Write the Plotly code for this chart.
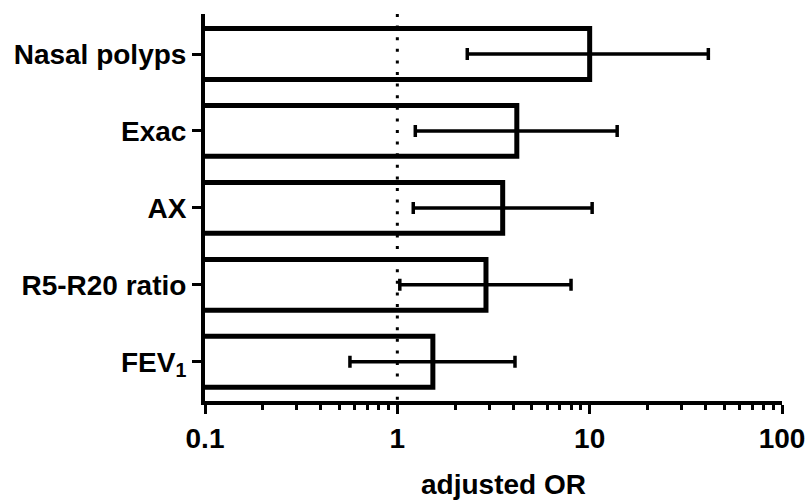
import plotly.graph_objects as go

# Adjusted odds ratios with 95% confidence intervals
categories = ["Nasal polyps", "Exac", "AX", "R5-R20 ratio", "FEV<sub>1</sub>"]
odds_ratio = [10.0, 4.18, 3.53, 2.89, 1.53]
ci_lower = [2.31, 1.24, 1.21, 1.03, 0.567]
ci_upper = [41.4, 13.9, 10.3, 8.0, 4.09]

x_tick_vals = [0.1, 1, 10, 100]
x_tick_text = ["0.1", "1", "10", "100"]
reference_or = 1

err_plus = [u - v for u, v in zip(ci_upper, odds_ratio)]
err_minus = [v - l for v, l in zip(odds_ratio, ci_lower)]

FONT = dict(family="Liberation Sans, Arial, sans-serif", size=28, color="black", weight="bold")

fig = go.Figure()
fig.add_trace(go.Bar(
    y=categories,
    x=odds_ratio,
    orientation="h",
    width=0.66,
    marker=dict(color="white", line=dict(color="black", width=5)),
    error_x=dict(
        type="data",
        symmetric=False,
        array=err_plus,
        arrayminus=err_minus,
        color="black",
        thickness=3.5,
        width=6,
    ),
    showlegend=False,
))

# dotted reference line at OR = 1
fig.add_shape(
    type="line", xref="x", yref="paper",
    x0=reference_or, x1=reference_or, y0=1, y1=0,
    line=dict(color="black", width=3, dash="3px,8.6px"),
    layer="above",
)

fig.add_annotation(
    text="adjusted OR", xref="paper", yref="paper",
    x=0.518, y=-0.215, xanchor="center", yanchor="middle",
    showarrow=False, font=FONT,
)

fig.update_layout(
    width=808, height=502,
    margin=dict(l=205, r=26, t=14, b=101, autoexpand=False),
    plot_bgcolor="white", paper_bgcolor="white",
    font=FONT,
    bargap=0.34,
)
fig.update_xaxes(
    type="log", range=[-1, 2], automargin=False,
    tickvals=x_tick_vals, ticktext=x_tick_text,
    showgrid=False, zeroline=False,
    showline=True, linecolor="black", linewidth=4,
    ticks="outside", ticklen=9, tickwidth=3, tickcolor="black",
    minor=dict(ticks="outside", ticklen=5, tickwidth=3, tickcolor="black", dtick="D1", showgrid=False),
    tickfont=FONT,
)
fig.update_yaxes(
    range=[4.51, -0.52], automargin=False,
    showgrid=False, zeroline=False,
    showline=True, linecolor="black", linewidth=4,
    ticks="outside", ticklen=9, tickwidth=3, tickcolor="black",
    tickfont=FONT,
)

fig.write_html("out.html")
